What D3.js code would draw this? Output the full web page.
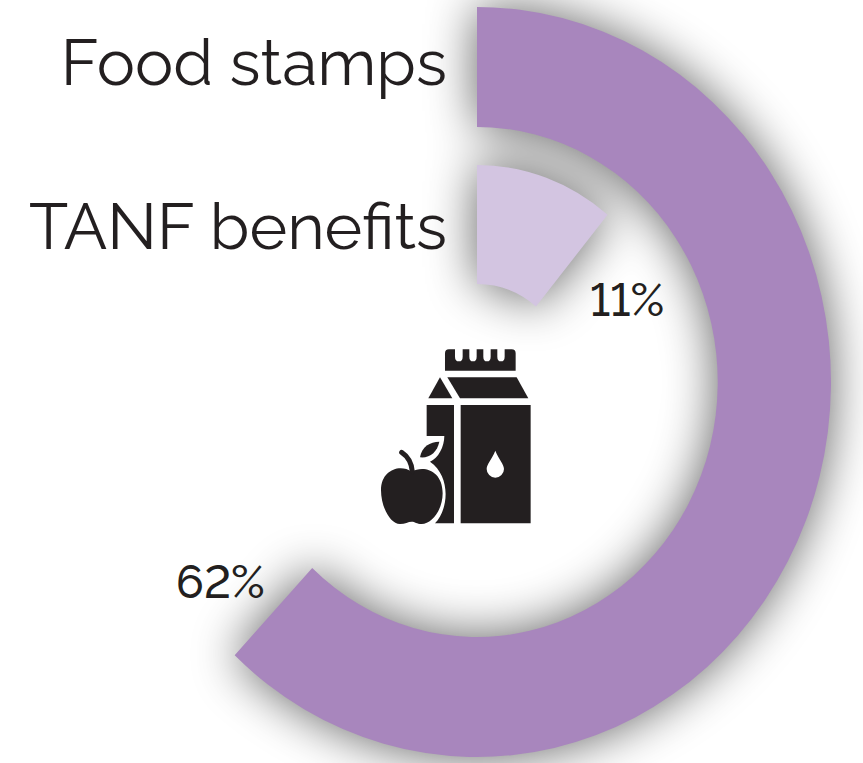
<!DOCTYPE html>
<html><head><meta charset="utf-8">
<script src="https://cdn.jsdelivr.net/npm/d3@7/dist/d3.min.js"></script>
<style>html,body{margin:0;padding:0;background:#fff}svg{display:block}</style>
</head><body><svg id="c" width="863" height="763"></svg>
<script>
const categories = ["Food stamps", "TANF benefits"];
const shares = [62, 11];
const percentLabels = ["62%", "11%"];
const colors = ["#a886bd", "#d3c5e1"];
const radii = [[255, 375], [98, 217]];

const svg = d3.select("#c");
const defs = svg.append("defs");
const f = defs.append("filter").attr("id","blur").attr("filterUnits","userSpaceOnUse")
  .attr("x",-150).attr("y",-150).attr("width",1200).attr("height",1100)
  .attr("color-interpolation-filters","sRGB");
f.append("feGaussianBlur").attr("stdDeviation",25);

const angle = d3.scaleLinear().domain([0,100]).range([0,2*Math.PI]);
const arc = d3.arc();
const arcD = (d,i)=>arc({innerRadius:radii[i][0],outerRadius:radii[i][1],startAngle:angle(0),endAngle:angle(d)});
const tf = "translate(477,382) scale(0.944,1)";
svg.append("g").attr("filter","url(#blur)").attr("opacity",0.62)
  .append("g").attr("transform",tf)
  .selectAll("path").data(shares).join("path").attr("fill","#000").attr("d",arcD);
svg.append("g").attr("transform",tf)
  .selectAll("path").data(shares).join("path").attr("fill",(d,i)=>colors[i]).attr("d",arcD);

const font = "Raleway, Lato, 'Open Sans', sans-serif";
svg.selectAll("text.cat").data(categories).join("text").attr("class","cat")
  .attr("x",447).attr("y",(d,i)=>[85,249][i])
  .attr("text-anchor","end").attr("font-family",font).attr("font-weight",400)
  .attr("font-size",64.3).attr("fill","#231f20").text(d=>d);
svg.selectAll("text.pct").data(percentLabels).join("text").attr("class","pct")
  .attr("x",(d,i)=>[176,590][i]).attr("y",(d,i)=>[598,316][i])
  .attr("font-family",font).attr("font-weight",500)
  .style("font-variant-numeric","lining-nums")
  .attr("font-size",46).attr("fill","#231f20").text(d=>d);

const ic = svg.append("g").attr("transform","translate(360,330) scale(0.3333)").attr("fill","#231f20");
ic.append("path").attr("d","M255,70 Q255,58 267,58 H285 V80 Q285,94 297,94 Q308,94 308,80 V58 H328 V80 Q328,94 339,94 Q350,94 350,80 V58 H370 V80 Q370,94 381,94 Q392,94 392,80 V58 H412 V80 Q412,94 423,94 Q434,94 434,80 V58 H455 Q467,58 467,70 V122 H255 Z");
ic.append("path").attr("d","M205,205 L240,142 L277,205 Z");
ic.append("path").attr("d","M262,142 H470 L505,205 H300 Z");
ic.append("path").attr("d","M200,225 H282 V580 H225 C265,540 275,440 210,395 C235,385 253,350 253,318 H200 Z");
ic.append("path").attr("d","M302,225 H512 V580 H302 Z");
ic.append("path").attr("fill","#fff").attr("d","M406,362 C395,390 380,402 380,417 A26,26 0 0 0 432,417 C432,402 417,390 406,362 Z");
ic.append("path").attr("d","M155,425 C190,405 248,420 248,490 C248,540 215,582 185,582 C170,582 165,575 155,575 C145,575 135,582 120,582 C90,582 63,530 63,480 C63,420 120,400 155,425 Z");
ic.append("path").attr("fill","none").attr("stroke","#231f20").attr("stroke-width",15).attr("stroke-linecap","round").attr("d","M125,367 C145,380 155,400 157,425");
ic.append("path").attr("d","M238,335 C210,335 185,350 180,382 C210,385 232,365 238,335 Z");
</script></body></html>
